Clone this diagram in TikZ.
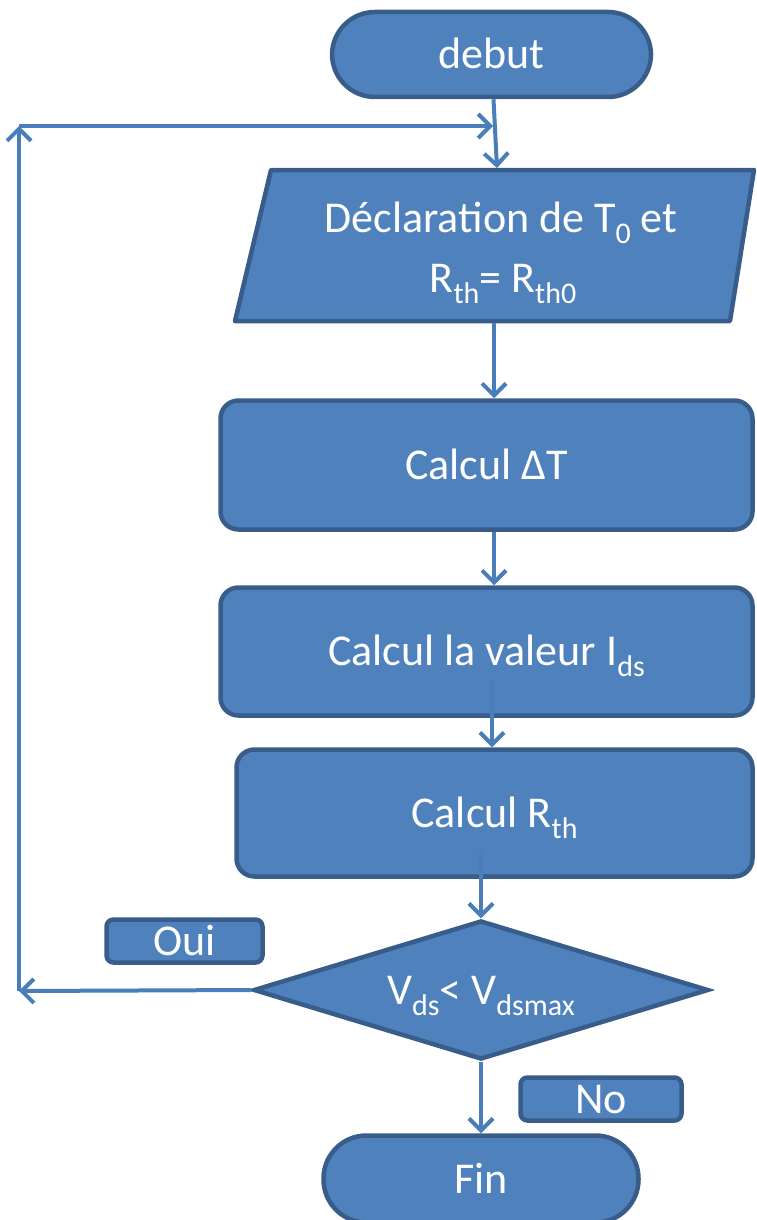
\documentclass[tikz,border=0pt]{standalone}
\usepackage{fontspec}
\setmainfont{Carlito}
\usetikzlibrary{arrows.meta,shapes.geometric}
\definecolor{fillc}{HTML}{4F81BD}
\definecolor{bordc}{HTML}{385D8A}
\definecolor{linec}{HTML}{4A7EBB}
\newcommand{\sbs}[1]{\raisebox{-11pt}{\fontsize{30}{30}\selectfont #1}}
\begin{document}
\begin{tikzpicture}[x=1pt,y=-1pt,
  shp/.style={draw=bordc, fill=fillc, line width=4.5pt, text=white,
    font=\fontsize{44}{50}\selectfont, inner sep=0pt, text height=28pt, text depth=0pt},
  procbox/.style={shp, rectangle, rounded corners=18pt},
  term/.style={shp, rectangle, rounded corners=43pt},
  lbl/.style={shp, rectangle, rounded corners=7pt},
  dia/.style={shp, diamond, aspect=3.26},
  txt/.style={text=white, font=\fontsize{44}{50}\selectfont, inner sep=0pt, anchor=base},
  conn/.style={draw=linec, line width=4pt, -{Straight Barb[length=12pt,width=24pt]}},
]
\useasboundingbox (0,0) rectangle (756,1220);

% terminal start
\node[term, minimum width=319pt, minimum height=85pt] (debut) at (491.5,54.5) {debut};

% input parallelogram
\draw[draw=bordc, fill=fillc, line width=4.5pt, line join=round]
  (271,170) -- (754,170) -- (730,321) -- (235,321) -- cycle;
\node[txt] (decl1) at (501,232) {Déclaration de T\sbs{0} et};
\node[txt] (decl2) at (503,292) {R\sbs{th}= R\sbs{th0}};
\coordinate (decltop) at (497,168);
\coordinate (declbot) at (494,323);

% process boxes
\node[procbox, minimum width=532pt, minimum height=129pt] (calc1) at (486.5,465) {Calcul ΔT};
\node[procbox, minimum width=532pt, minimum height=128pt] (ids) at (486.5,651.5) {Calcul la valeur I\sbs{ds}};
\node[procbox, minimum width=516pt, minimum height=127pt] (rth) at (494.5,813) {Calcul R\sbs{th}};

% decision
\node[dia, minimum width=455pt, minimum height=139pt] (dec) at (481,990) {V\sbs{ds}< V\sbs{dsmax}};

% labels
\node[lbl, minimum width=156pt, minimum height=43pt] (oui) at (184.5,941) {Oui};
\node[lbl, minimum width=161pt, minimum height=43pt] (no) at (601,1099) {No};

% terminal end
\node[term, minimum width=315pt, minimum height=87pt] (fin) at (481,1179) {Fin};

% connector points
\coordinate (idsout) at (492,680);
\coordinate (rthout) at (481,850);
\coordinate (cornbl) at (19,991);
\coordinate (corntl) at (19,126);
\coordinate (loopend) at (493,126);

% connectors
\draw[conn] ([xshift=2pt]debut.south) -- (decltop);
\draw[conn] (declbot) -- (declbot |- calc1.north);
\draw[conn] (declbot |- calc1.south) -- (declbot |- ids.north);
\draw[conn] (idsout) -- (idsout |- rth.north);
\draw[conn] (rthout) -- (dec.north);
\draw[conn] (dec.south) -- (fin.north);
\draw[conn] (dec.west) -- (cornbl);
\draw[conn] (cornbl) -- (corntl);
\draw[conn] (corntl) -- (loopend);
\end{tikzpicture}
\end{document}
